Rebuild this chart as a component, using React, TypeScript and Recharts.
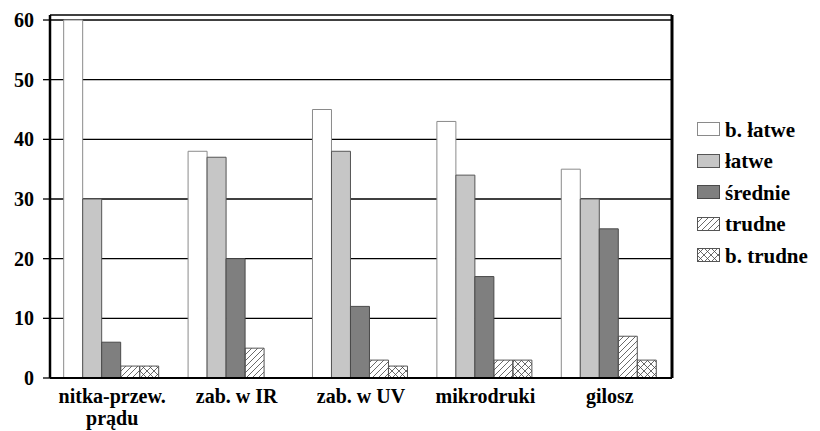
import React from 'react';
import { BarChart, Bar, XAxis, YAxis, CartesianGrid, Legend } from 'recharts';

const categories = ['nitka-przew.\nprądu', 'zab. w IR', 'zab. w UV', 'mikrodruki', 'gilosz'];
const bLatwe = [60, 38, 45, 43, 35];
const latwe = [30, 37, 38, 34, 30];
const srednie = [6, 20, 12, 17, 25];
const trudne = [2, 5, 3, 3, 7];
const bTrudne = [2, 0, 2, 3, 3];
const seriesNames = ['b. łatwe', 'łatwe', 'średnie', 'trudne', 'b. trudne'];
const yTicks = [0, 10, 20, 30, 40, 50, 60];

const seriesKeys = ['s0', 's1', 's2', 's3', 's4'];
const seriesValues = [bLatwe, latwe, srednie, trudne, bTrudne];
const seriesFill = ['#ffffff', '#c6c6c6', '#7f7f7f', 'url(#hatch)', 'url(#cross)'];
const seriesStroke = ['#8a8a8a', '#555555', '#4a4a4a', '#555555', '#555555'];

const data = categories.map((name, i) => {
  const row: Record<string, any> = { name };
  seriesKeys.forEach((k, j) => {
    row[k] = seriesValues[j][i];
  });
  return row;
});

const boundaryTicks = categories.map((_, i) => i).concat([categories.length]);

const FONT = '"Liberation Serif", "Times New Roman", serif';

const XTick = (props: any) => {
  const { x, y, payload } = props;
  const lines = String(payload.value).split('\n');
  return (
    <g>
      {lines.map((l, i) => (
        <text
          key={i}
          x={x}
          y={y + 17 + i * 22}
          textAnchor="middle"
          fontFamily={FONT}
          fontSize={20}
          fontWeight="bold"
          fill="#000"
        >
          {l}
        </text>
      ))}
    </g>
  );
};

const LegendContent = () => (
  <div style={{ fontFamily: FONT, fontSize: 21, fontWeight: 'bold', color: '#000' }}>
    {seriesNames.map((n, i) => (
      <div key={n} style={{ display: 'flex', alignItems: 'center', height: 31.5, whiteSpace: 'nowrap' }}>
        <svg width={24} height={15} style={{ display: 'block' }}>
          <rect x={0.5} y={0.5} width={22} height={13} fill={seriesFill[i]} stroke={seriesStroke[i]} strokeWidth={1} />
        </svg>
        <span style={{ marginLeft: 4, lineHeight: '22px' }}>{n}</span>
      </div>
    ))}
  </div>
);

export default function App() {
  return (
    <div style={{ position: 'absolute', left: 0, top: 0, width: 820, height: 431, background: '#fff' }}>
      <BarChart
        width={820}
        height={431}
        data={data}
        margin={{ top: 15, right: 0, bottom: 0, left: 0 }}
        barCategoryGap="11%"
        barGap={0}
      >
        <defs>
          <pattern id="hatch" patternUnits="userSpaceOnUse" width={6} height={6}>
            <path d="M-1,1 l2,-2 M0,6 l6,-6 M5,7 l2,-2" stroke="#444" strokeWidth={0.8} />
          </pattern>
          <pattern id="cross" patternUnits="userSpaceOnUse" width={7} height={7}>
            <path d="M-1,1 l2,-2 M0,7 l7,-7 M6,8 l2,-2 M-1,6 l2,2 M0,0 l7,7 M6,-1 l2,2" stroke="#444" strokeWidth={0.8} />
          </pattern>
        </defs>
        <CartesianGrid horizontal vertical={false} stroke="#000" strokeWidth={1.3} />
        <XAxis
          xAxisId={0}
          type="number"
          domain={[0, categories.length]}
          ticks={boundaryTicks}
          interval={0}
          height={0}
          axisLine={false}
          tick={false}
          tickLine={{ stroke: '#000', strokeWidth: 1.5 }}
          tickSize={6}
        />
        <XAxis
          xAxisId="cat"
          dataKey="name"
          height={53}
          interval={0}
          tickLine={false}
          axisLine={{ stroke: '#000', strokeWidth: 2 }}
          tick={<XTick />}
        />
        <YAxis
          yAxisId={0}
          width={50}
          domain={[0, 60.84]}
          ticks={yTicks}
          interval={0}
          allowDataOverflow
          axisLine={{ stroke: '#000', strokeWidth: 2.5 }}
          tickLine={{ stroke: '#000', strokeWidth: 1.3 }}
          tickSize={7}
          tickMargin={9}
          tick={{ fontFamily: FONT, fontSize: 20, fontWeight: 'bold', fill: '#000' }}
        />
        <YAxis
          yAxisId="r"
          orientation="right"
          width={148}
          domain={[0, 60.84]}
          tick={false}
          tickLine={false}
          axisLine={{ stroke: '#000', strokeWidth: 3 }}
        />
        {seriesKeys.map((k, i) => (
          <Bar
            key={k}
            dataKey={k}
            name={seriesNames[i]}
            xAxisId="cat"
            yAxisId={0}
            fill={seriesFill[i]}
            stroke={seriesStroke[i]}
            strokeWidth={1}
            isAnimationActive={false}
          />
        ))}
        <Legend
          layout="vertical"
          align="center"
          verticalAlign="middle"
          content={() => <LegendContent />}
          wrapperStyle={{ position: 'absolute', left: 697, top: 114, width: 123 }}
        />
      </BarChart>
    </div>
  );
}
